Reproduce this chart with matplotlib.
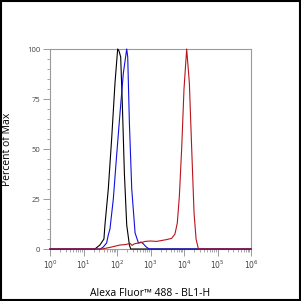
import numpy as np
import matplotlib
matplotlib.use("Agg")
import matplotlib.pyplot as plt
from matplotlib.ticker import FixedLocator, LogLocator, NullFormatter
from matplotlib.patches import Rectangle

plt.rcParams['font.family'] = ['Open Sans', 'DejaVu Sans']

# log10 fluorescence positions and percent-of-max values
black_log = [0.0, 1.34, 1.49, 1.61, 1.64, 1.74, 1.84, 1.94, 2.02, 2.06, 2.11, 2.16, 2.22, 2.29, 2.37, 2.41, 6.0]
black_pct = [0, 0, 2, 5, 12, 30, 55, 83, 100, 99, 96, 72, 38, 12, 2, 0, 0]

blue_log = [0.0, 1.50, 1.59, 1.69, 1.74, 1.79, 1.89, 1.99, 2.09, 2.19, 2.29, 2.32, 2.37, 2.44, 2.54, 2.64, 2.72, 2.79, 2.86, 2.96, 6.0]
blue_pct = [0, 0, 1, 3, 7, 10, 25, 47, 68, 88, 100, 96, 63, 30, 8, 3, 3.5, 2.5, 1.2, 0, 0]

red_log = [0.0, 1.55, 1.79, 2.09, 2.25, 2.39, 2.45, 2.52, 2.64, 2.75, 2.84, 3.0, 3.18, 3.35, 3.48, 3.63, 3.73, 3.80, 3.86, 3.93, 4.00, 4.08, 4.16, 4.23, 4.30, 4.36, 4.43, 6.0]
red_pct = [0, 0, 0.8, 2, 2.2, 2.8, 1.8, 2.6, 3, 3.3, 3.8, 4, 3.8, 4.3, 4.7, 5.3, 7.5, 13, 26, 50, 80, 100, 83, 50, 18, 5, 0, 0]

x_tick_exps = [0, 1, 2, 3, 4, 5, 6]
y_ticks = [0, 25, 50, 75, 100]

fig = plt.figure(figsize=(3.01, 3.01), dpi=100)
ax = fig.add_axes([50/301, 52/301, 201/301, 200/301])

gray = '#9a9a9a'
lw = 0.8
ax.plot(10**np.array(black_log), black_pct, color='black', lw=lw, clip_on=False, zorder=3)
ax.plot(10**np.array(blue_log), blue_pct, color='#1010e0', lw=lw, clip_on=False, zorder=3)
ax.plot(10**np.array(red_log), red_pct, color='#b8141c', lw=lw, clip_on=False, zorder=4)

ax.set_xscale('log')
ax.set_xlim(1, 1e6)
ax.set_ylim(0, 100)

ax.xaxis.set_major_locator(FixedLocator([10**e for e in x_tick_exps]))
ax.set_xticklabels([r'$10^{%d}$' % e for e in x_tick_exps])
ax.xaxis.set_minor_locator(LogLocator(base=10, subs=np.arange(2, 10), numticks=20))
ax.xaxis.set_minor_formatter(NullFormatter())

ax.set_yticks(y_ticks)
ax.set_yticks(np.arange(0, 101, 5), minor=True)

for s in ax.spines.values():
    s.set_color(gray)
    s.set_linewidth(0.8)

ax.tick_params(axis='both', which='major', length=5, width=0.7, color=gray,
               labelsize=5.5, labelcolor='#444444', pad=2)
ax.tick_params(axis='both', which='minor', length=2.5, width=0.6, color=gray)
ax.tick_params(axis='x', which='major', pad=2)

ax.set_ylabel('Percent of Max', fontsize=7.5, labelpad=10)
ax.set_xlabel('Alexa Fluor™ 488 - BL1-H', fontsize=7.5, labelpad=12)

fig.patches.append(Rectangle((0.002, 0.002), 0.995, 0.995, transform=fig.transFigure,
                             fill=False, edgecolor='black', linewidth=1.5))

fig.savefig('out.png', dpi=100)
